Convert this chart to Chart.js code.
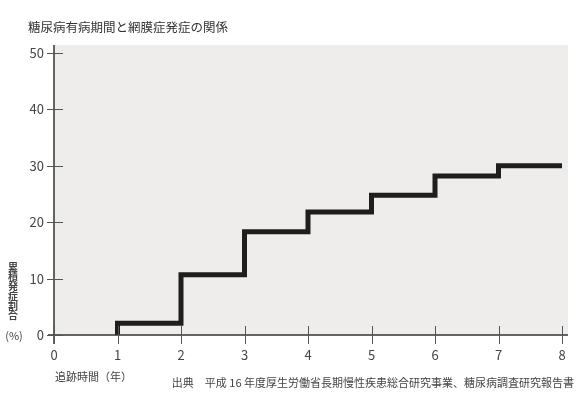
<!DOCTYPE html>
<html>
<head>
<meta charset="utf-8">
<script src="https://cdn.jsdelivr.net/npm/chart.js@4.4.0/dist/chart.umd.min.js"></script>
<style>
  body { margin: 0; background: #fff; }
</style>
</head>
<body>
<canvas id="myChart" width="583" height="402"></canvas>
<script>
// follow-up years and cumulative onset rate (%)
const years = [1, 1, 2, 3, 4, 5, 6, 7, 8];
const onsetRate = [0, 2.1, 10.7, 18.3, 21.8, 24.8, 28.2, 30.0, 30.0];
const xTicks = [0, 1, 2, 3, 4, 5, 6, 7, 8];
const yTicks = [0, 10, 20, 30, 40, 50];

const titleText = '糖尿病有病期間と網膜症発症の関係';
const yTitleChars = ['累', '積', '発', '症', '割', '合'];
const xTitleText = '追跡時間（年）';
const sourceText = '出典　平成 16 年度厚生労働省長期慢性疾患総合研究事業、糖尿病調査研究報告書';

const jp = '"Noto Sans CJK JP", "Noto Sans", sans-serif';

const decor = {
  id: 'decor',
  beforeDraw(chart) {
    const { ctx, chartArea } = chart;
    ctx.save();
    ctx.fillStyle = '#eeedeb';
    ctx.fillRect(chartArea.left, chartArea.top - 8, chartArea.right - chartArea.left + 6, chartArea.bottom - chartArea.top + 8);
    ctx.restore();
  },
  afterDatasetsDraw(chart) {
    const { ctx, chartArea, scales } = chart;
    ctx.save();
    // axes
    ctx.strokeStyle = '#333';
    ctx.lineWidth = 1.5;
    ctx.beginPath();
    ctx.moveTo(chartArea.left, chartArea.top - 8);
    ctx.lineTo(chartArea.left, chartArea.bottom + 9);
    ctx.moveTo(chartArea.left - 6, chartArea.bottom);
    ctx.lineTo(chartArea.right + 6, chartArea.bottom);
    ctx.stroke();
    // tick marks crossing the axes
    ctx.strokeStyle = '#555';
    ctx.lineWidth = 1;
    ctx.beginPath();
    xTicks.forEach(v => {
      const x = Math.round(scales.x.getPixelForValue(v)) + 0.5;
      ctx.moveTo(x, chartArea.bottom - 9);
      ctx.lineTo(x, chartArea.bottom + 9);
    });
    yTicks.forEach(v => {
      const y = Math.round(scales.y.getPixelForValue(v)) + 0.5;
      ctx.moveTo(chartArea.left - 7, y);
      ctx.lineTo(chartArea.left + 9, y);
    });
    ctx.stroke();
    ctx.restore();
  },
  afterDraw(chart) {
    const { ctx } = chart;
    ctx.save();
    ctx.fillStyle = '#333';
    ctx.textBaseline = 'middle';
    ctx.textAlign = 'left';
    ctx.font = '12.5px ' + jp;
    ctx.fillText(titleText, 28, 27);

    ctx.font = 'bold 10px ' + jp;
    ctx.fillStyle = '#444';
    ctx.textAlign = 'center';
    yTitleChars.forEach((c, i) => ctx.fillText(c, 13, 267 + i * 9.7));
    ctx.font = '11px ' + jp;
    ctx.fillText('(%)', 14, 336);

    ctx.textAlign = 'left';
    ctx.font = '11px ' + jp;
    ctx.fillText(xTitleText, 55, 377);
    ctx.textAlign = 'right';
    ctx.fillText(sourceText, 574, 383);
    ctx.restore();
  }
};

const data = {
  datasets: [
    {
      label: '累積発症割合',
      data: years.map((x, i) => ({ x: x, y: onsetRate[i] })),
      borderColor: '#1e1e1e',
      borderWidth: 5,
      borderJoinStyle: 'miter',
      borderCapStyle: 'butt',
      stepped: 'before',
      pointRadius: 0,
      fill: false,
    }
  ]
};

const config = {
  type: 'line',
  data: data,
  options: {
    responsive: false,
    animation: false,
    layout: {
      padding: { left: 14, right: 21, top: 53, bottom: 27 }
    },
    plugins: {
      legend: { display: false },
      title: { display: false },
      tooltip: { enabled: false }
    },
    scales: {
      x: {
        type: 'linear',
        min: 0,
        max: 8,
        afterBuildTicks: (s) => { s.ticks = xTicks.map(v => ({ value: v })); },
        afterFit: (s) => { s.height = 40; },
        grid: { display: false, drawTicks: false },
        border: { display: false },
        ticks: {
          padding: 12,
          color: '#444',
          font: { family: jp, size: 13 }
        }
      },
      y: {
        min: 0,
        max: 50,
        afterBuildTicks: (s) => { s.ticks = yTicks.map(v => ({ value: v })); },
        afterFit: (s) => { s.width = 40; },
        grid: { display: false, drawTicks: false },
        border: { display: false },
        ticks: {
          padding: 10,
          color: '#444',
          font: { family: jp, size: 13 }
        }
      }
    }
  },
  plugins: [decor]
};

let ctx = document.getElementById('myChart').getContext('2d');
let chart = new Chart(ctx, config);
</script>
</body>
</html>
